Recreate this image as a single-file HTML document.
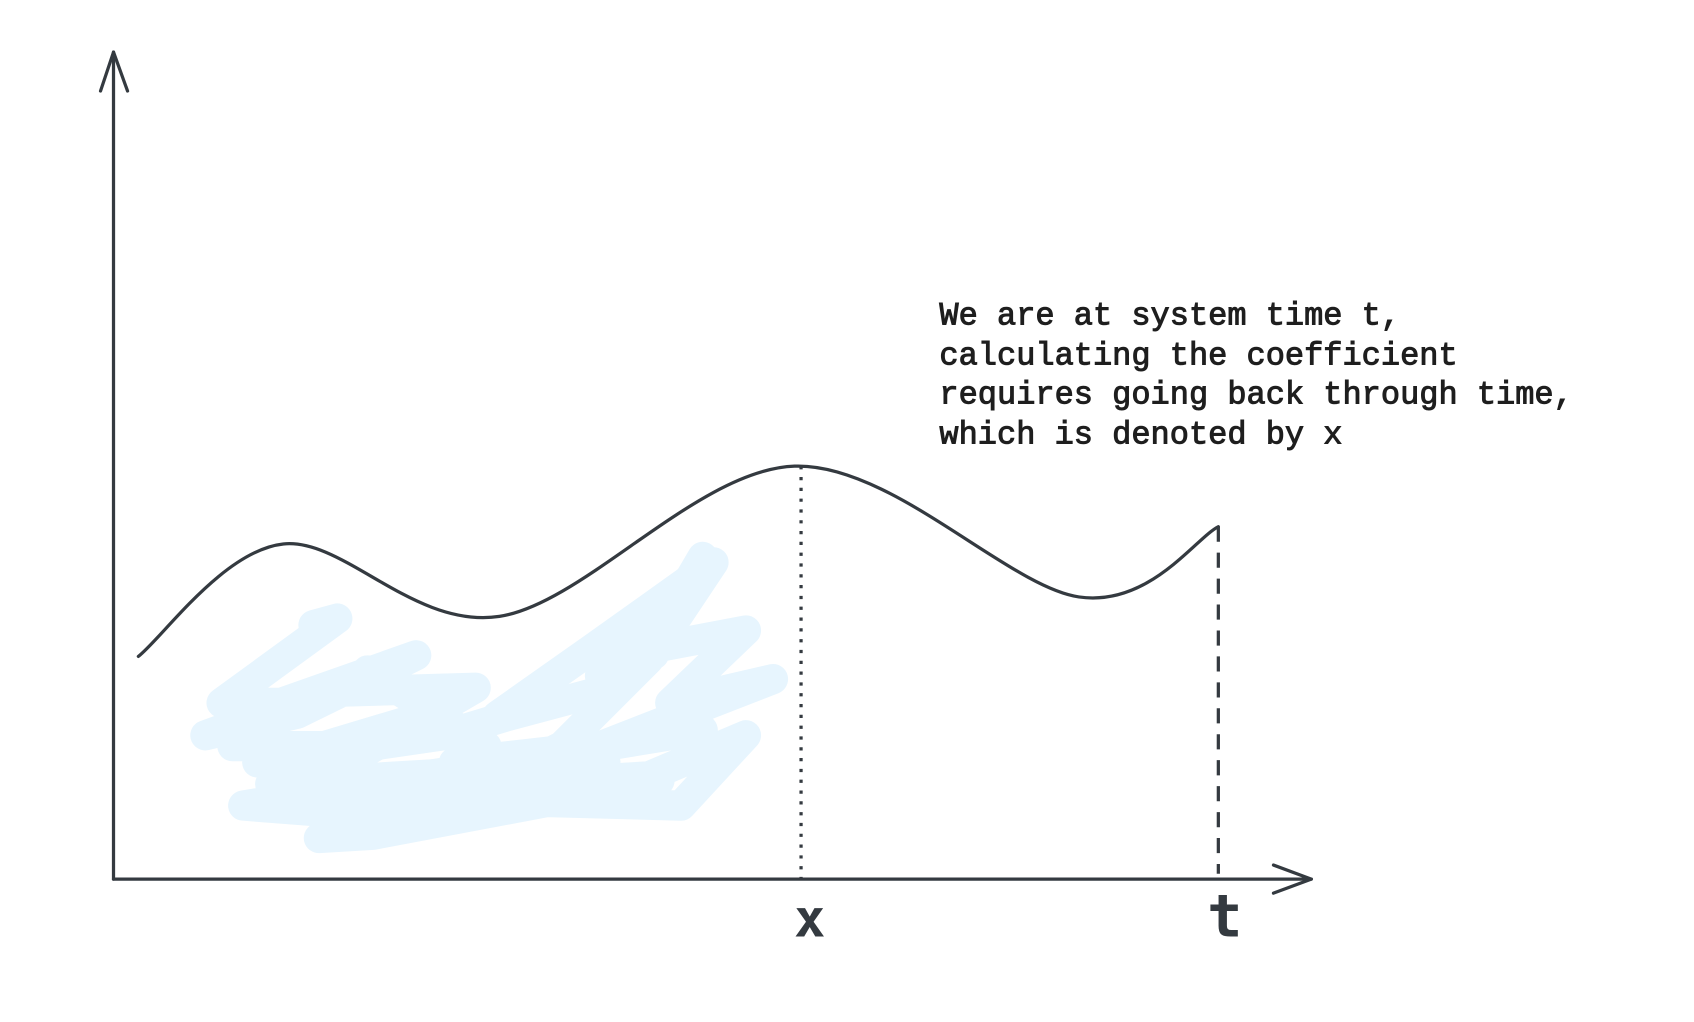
<!DOCTYPE html>
<html><head><meta charset="utf-8"><style>
html,body{margin:0;padding:0;background:#fff;}
svg{display:block}
</style></head><body>
<svg width="1694" height="1022" viewBox="0 0 1567 945" xmlns="http://www.w3.org/2000/svg">
<rect width="1567" height="945" fill="#fff"/>
<g id="scribble" fill="none" stroke="#e7f5fe" stroke-width="28" stroke-linecap="round" stroke-linejoin="round">
<path d="M290,578 L312,572 L205,650 L260,650 L385,606 L275,660 L190,680 L300,640 L440,636 L330,700 L238,705 L410,680 L470,662 L560,638 L600,578 L555,625 L605,605 L650,515 L600,600 L690,583 L620,650 L715,628 L530,700 L420,705 L570,688 L650,675 L225,745 L290,750 L430,728 L600,718 L690,680 L630,745 L440,740 L295,775 L345,772 L610,722"/>
<path d="M460,662 L555,595 L660,520 L600,610 L520,690 L450,725"/>
<path d="M215,690 L300,690 L400,660 M250,725 L420,715 L560,705 M340,620 L450,690"/>
</g>
<g stroke="#343a40" stroke-width="3" fill="none" stroke-linecap="round" stroke-linejoin="round">
<line x1="105" y1="813" x2="105" y2="48"/>
<path d="M93,84 L105,48 L118,84"/>
<line x1="105" y1="813" x2="1213" y2="813"/>
<path d="M1178,800 L1213,813 L1178,826"/>
</g>
<path id="curve" fill="none" stroke="#343a40" stroke-width="3" stroke-linecap="round"/>
<line id="xline" stroke="#343a40" stroke-width="3" stroke-dasharray="3,7"/>
<line id="tline" stroke="#343a40" stroke-width="3" stroke-dasharray="14,10"/>
<text x="749" y="866" text-anchor="middle" font-family="DejaVu Sans Mono, monospace" font-weight="bold" font-size="48" fill="#343a40">x</text>
<text x="1133" y="866" text-anchor="middle" font-family="DejaVu Sans Mono, monospace" font-weight="bold" font-size="54" fill="#343a40">t</text>
<g font-family="Liberation Mono, monospace" font-size="29.6" fill="#1e1e1e" stroke="#1e1e1e" stroke-width="0.9">
<text x="869" y="300">We are at system time t,</text>
<text x="869" y="337">calculating the coefficient</text>
<text x="869" y="373">requires going back through time,</text>
<text x="869" y="410">which is denoted by x</text>
</g>
</svg>
<script>
const curveX = [128, 262, 462, 735, 998, 1127];
const curveY = [607, 503, 570, 431, 552, 487];
const markerX = [741, 1127];
const axisY = 813;
function pt(k){ const j=Math.max(0,Math.min(curveX.length-1,k)); return [curveX[j],curveY[j]]; }
function cp(i){
  const p0=pt(i-1),p1=pt(i),p2=pt(i+1),p3=pt(i+2);
  return [p1[0]+(p2[0]-p0[0])/6,p1[1]+(p2[1]-p0[1])/6,p2[0]-(p3[0]-p1[0])/6,p2[1]-(p3[1]-p1[1])/6,p2[0],p2[1]];
}
let d='M'+curveX[0]+','+curveY[0];
for(let i=0;i<curveX.length-1;i++){const c=cp(i);d+=' C'+c.slice(0,2).join(',')+' '+c.slice(2,4).join(',')+' '+c.slice(4,6).join(',');}
document.getElementById('curve').setAttribute('d',d);
function yAt(x){let best=0;for(let i=1;i<curveX.length;i++){if(Math.abs(curveX[i]-x)<Math.abs(curveX[best]-x))best=i;}return curveY[best];}
const xl=document.getElementById('xline');
xl.setAttribute('x1',markerX[0]);xl.setAttribute('x2',markerX[0]);xl.setAttribute('y1',yAt(markerX[0]));xl.setAttribute('y2',axisY);
const tl=document.getElementById('tline');
tl.setAttribute('x1',markerX[1]);tl.setAttribute('x2',markerX[1]);tl.setAttribute('y1',yAt(markerX[1]));tl.setAttribute('y2',axisY-5);
</script>
</body></html>
